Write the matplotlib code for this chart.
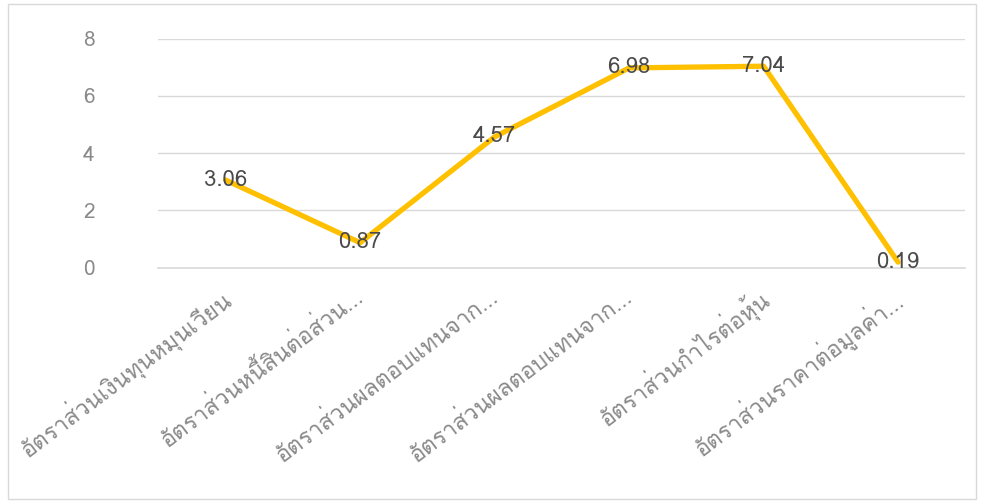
import matplotlib
matplotlib.use("Agg")
import matplotlib.pyplot as plt
import matplotlib.transforms as mtransforms
from matplotlib import font_manager
from matplotlib.ft2font import FT2Font
from matplotlib.patches import Rectangle

categories = ["อัตราส่วนเงินทุนหมุนเวียน", "อัตราส่วนหนี้สินต่อส่วน...",
              "อัตราส่วนผลตอบแทนจาก...", "อัตราส่วนผลตอบแทนจาก...",
              "อัตราส่วนกำไรต่อหุ้น", "อัตราส่วนราคาต่อมูลค่า..."]
values = [3.06, 0.87, 4.57, 6.98, 7.04, 0.19]
y_ticks = [0, 2, 4, 6, 8]

# find an installed font that has Thai glyphs
thai_font = None
for path in sorted(font_manager.findSystemFonts()):
    try:
        if 0x0E2D in FT2Font(path).get_charmap():
            thai_font = font_manager.FontProperties(fname=path).get_name()
            break
    except Exception:
        pass
families = ([thai_font] if thai_font else []) + ["DejaVu Sans"]
plt.rcParams["font.family"] = families

fig = plt.figure(figsize=(9.84, 5.03), dpi=100)
ax = fig.add_axes([0.161, 0.468, 0.820, 0.455])

x = list(range(len(values)))
ax.plot(x, values, color="#FFC000", lw=3.8, solid_capstyle="round", zorder=3)
for xi, v in zip(x, values):
    ax.text(xi, v, f"{v:.2f}", ha="center", va="center", fontsize=16,
            color="#4a4a4a", zorder=4)

ax.set_xlim(-0.5, len(values) - 0.5)
ax.set_ylim(0, 8)
ax.set_yticks(y_ticks)
ax.yaxis.grid(True, color="#d9d9d9", lw=1)
ax.axhline(0, color="#d9d9d9", lw=1.2, clip_on=False, zorder=1)
ax.set_axisbelow(True)
for s in ax.spines.values():
    s.set_visible(False)
ax.tick_params(axis="y", length=0, pad=46, labelsize=15, labelcolor="#8a8a8a")
ax.tick_params(axis="x", length=0, pad=12, labelsize=16.5, labelcolor="#8a8a8a")
ax.set_xticks(x)
ax.set_xticklabels(categories, rotation=37, ha="right", rotation_mode="anchor")
shift = mtransforms.ScaledTranslation(-5 / 72, 0, fig.dpi_scale_trans)
for lbl in ax.get_xticklabels():
    lbl.set_transform(lbl.get_transform() + shift)

fig.patches.append(Rectangle((0.008, 0.008), 0.984, 0.984, transform=fig.transFigure,
                             fill=False, edgecolor="#d9d9d9", lw=1))

fig.savefig("out.png", dpi=100)
